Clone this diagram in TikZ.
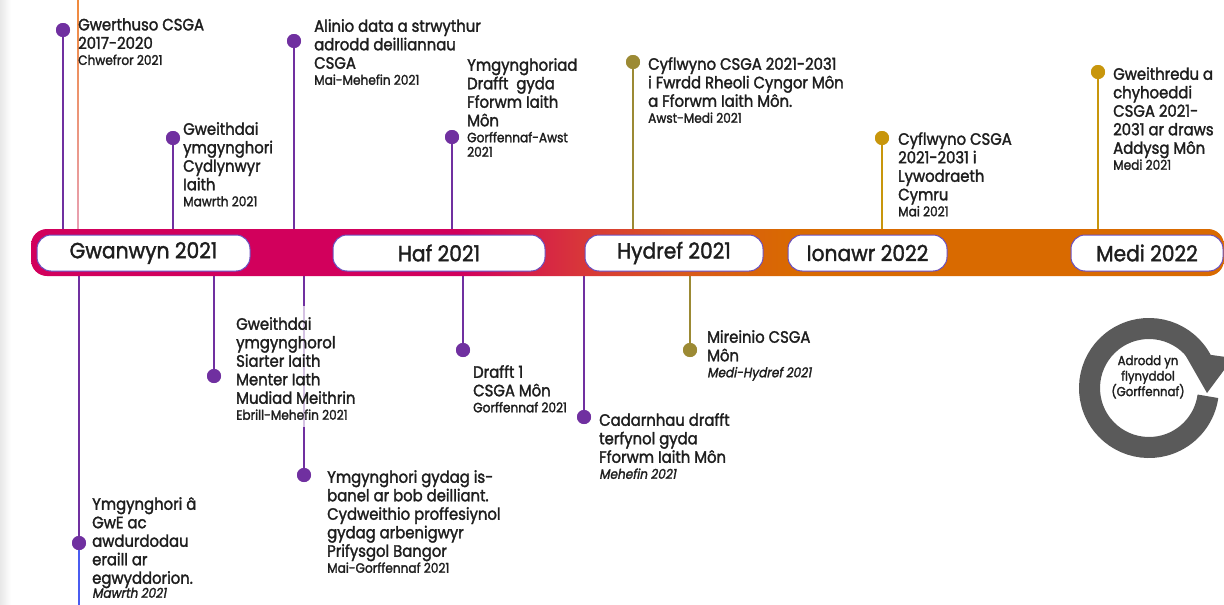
\documentclass[tikz,border=0pt]{standalone}
\usepackage{fontspec}
\setmainfont{Poppins}[FakeStretch=0.9,FakeBold=1.8]
\newfontfamily\itfont{Poppins}[FakeStretch=0.9,FakeSlant=0.18,FakeBold=1.8]
\newfontfamily\pillfont{Poppins}[FakeStretch=0.92,FakeBold=1.6]
\definecolor{evpurple}{HTML}{7030A0}
\definecolor{evolive}{HTML}{9C8A34}
\definecolor{evgold}{HTML}{C8960C}
\definecolor{txt}{HTML}{1E1E1E}
\definecolor{barMag}{HTML}{D2005C}
\definecolor{barRed}{HTML}{D8363A}
\definecolor{barOR}{HTML}{DA5A1A}
\definecolor{barOr}{HTML}{D96A00}
\definecolor{pillline}{HTML}{6A4FBF}
\definecolor{ringgray}{HTML}{5A5A5A}
\definecolor{lineOr}{HTML}{F08A3C}
\definecolor{linePk}{HTML}{E8A0B4}
\definecolor{lineBl}{HTML}{4A5CF0}
\pgfdeclarehorizontalshading{barshade}{100bp}{color(0bp)=(barMag); color(43bp)=(barMag); color(48bp)=(barRed); color(52.5bp)=(barOR); color(57bp)=(barOr); color(100bp)=(barOr)}
\newcommand\dfont{\fontsize{13.5}{15}\selectfont}
\newcommand\dtext[1]{{\dfont #1}}
\newcommand\ditext[1]{{\itfont\dfont #1}}
\tikzset{
  ev/.style={anchor=north west, align=left, inner sep=0pt, text=txt, font=\fontsize{16.5}{18.5}\selectfont},
  dotP/.style={circle, fill=evpurple, inner sep=0pt, minimum size=14},
  dotO/.style={circle, fill=evolive, inner sep=0pt, minimum size=14},
  dotG/.style={circle, fill=evgold, inner sep=0pt, minimum size=14},
  stemP/.style={draw=evpurple, line width=2.6},
  stemO/.style={draw=evolive, line width=2.6},
  stemG/.style={draw=evgold, line width=2.6},
  stemF/.style={draw=evpurple!30, line width=2.6},
  stemB/.style={draw=lineBl, line width=2.6},
  pill/.style={draw=pillline, line width=1, fill=white, rounded corners=14, minimum height=36, inner sep=0pt, text=txt, font=\pillfont\fontsize{22}{26}\selectfont},
}
\begin{document}
\begin{tikzpicture}[x=1pt,y=-1pt]
\useasboundingbox (0,0) rectangle (1224,605);
\fill[white] (0,0) rectangle (1224,605);
\shade[left color=black!9, right color=white] (0,0) rectangle (11,605);
\shade[top color=lineOr, bottom color=linePk] (77.2,0) rectangle (78.8,230);

% bar-side coordinates
\coordinate (b1) at (63,240);
\coordinate (b2) at (173,240);
\coordinate (b3) at (294,240);
\coordinate (b4) at (452,240);
\coordinate (b5) at (633,240);
\coordinate (b6) at (882,240);
\coordinate (b7) at (1098,240);
\coordinate (b8) at (79,265);
\coordinate (b9) at (214,265);
\coordinate (b10) at (304,265);
\coordinate (b11) at (463,265);
\coordinate (b12) at (584,265);
\coordinate (b13) at (690,265);
\coordinate (c10a) at (304,306);
\coordinate (c10b) at (304,427);
\coordinate (e8) at (79,605);

% dots
\node[dotP] (d1) at (63,30) {};
\node[dotP] (d2) at (173,138) {};
\node[dotP] (d3) at (294,41) {};
\node[dotP] (d4) at (452,137) {};
\node[dotO] (d5) at (633,62) {};
\node[dotG] (d6) at (882,138) {};
\node[dotG] (d7) at (1098,72) {};
\node[dotP] (d8) at (79,543) {};
\node[dotP] (d9) at (214,376) {};
\node[dotP] (d10) at (304,475) {};
\node[dotP] (d11) at (463,350) {};
\node[dotP] (d12) at (584,417) {};
\node[dotO] (d13) at (690,350) {};

% stems
\draw[stemP] (b1) -- (d1.center);
\draw[stemP] (b2) -- (d2.center);
\draw[stemP] (b3) -- (d3.center);
\draw[stemP] (b4) -- (d4.center);
\draw[stemO] (b5) -- (d5.center);
\draw[stemG] (b6) -- (d6.center);
\draw[stemG] (b7) -- (d7.center);
\draw[stemP] (b8) -- (d8.center);
\draw[stemB] (d8.center) -- (e8);
\draw[stemP] (b9) -- (d9.center);
\draw[stemP] (b10) -- (c10a);
\draw[stemF] (c10a) -- (c10b);
\draw[stemP] (c10b) -- (d10.center);
\draw[stemP] (b11) -- (d11.center);
\draw[stemP] (b12) -- (d12.center);
\draw[stemO] (b13) -- (d13.center);

% redraw dots on top
\foreach \d/\s in {d1/dotP,d2/dotP,d3/dotP,d4/dotP,d5/dotO,d6/dotG,d7/dotG,d8/dotP,d9/dotP,d10/dotP,d11/dotP,d12/dotP,d13/dotO}{
  \node[\s] at (\d.center) {};
}

% bar
\shade[shading=barshade, rounded corners=16] (31,229) rectangle (1224,276);

% pills
\node[pill, minimum width=213] (p1) at (143.5,253) {Gwanwyn 2021};
\node[pill, minimum width=212] (p2) at (439,253) {Haf 2021};
\node[pill, minimum width=178] (p3) at (674,253) {Hydref 2021};
\node[pill, minimum width=159] (p4) at (867.5,253) {Ionawr 2022};
\node[pill, minimum width=152] (p5) at (1147,253) {Medi 2022};

% top texts
\node[ev] (t1) at (78,18) {Gwerthuso CSGA\\2017-2020\\[-2.5pt]\dtext{Chwefror 2021}};
\node[ev] (t2) at (183,122) {Gweithdai\\ymgynghori\\Cydlynwyr\\Iaith\\[-2.5pt]\dtext{Mawrth 2021}};
\node[ev] (t3) at (314,19) {Alinio data a strwythur\\adrodd deilliannau\\CSGA\\[-2.5pt]\dtext{Mai-Mehefin 2021}};
\node[ev] (t4) at (467,58) {Ymgynghoriad\\Drafft\ \ gyda\\Fforwm Iaith\\Môn\\[-2.5pt]\dtext{Gorffennaf-Awst}\\[-4pt]\dtext{2021}};
\node[ev] (t5) at (648,57) {Cyflwyno CSGA 2021-2031\\i Fwrdd Rheoli Cyngor Môn\\a Fforwm Iaith Môn.\\[-2.5pt]\dtext{Awst-Medi 2021}};
\node[ev] (t6) at (898,132) {Cyflwyno CSGA\\2021-2031 i\\Lywodraeth\\Cymru\\[-2.5pt]\dtext{Mai 2021}};
\node[ev] (t7) at (1113,67) {Gweithredu a\\chyhoeddi\\CSGA 2021-\\2031 ar draws\\Addysg Môn\\[-2.5pt]\dtext{Medi 2021}};

% bottom texts
\node[ev] (t8) at (92,497) {Ymgynghori â\\GwE ac\\awdurdodau\\eraill ar\\egwyddorion.\\[-4.5pt]\ditext{Mawrth 2021}};
\node[ev] (t9) at (236,317) {Gweithdai\\ymgynghorol\\Siarter Iaith\\Menter Iath\\Mudiad Meithrin\\[-2.5pt]\dtext{Ebrill-Mehefin 2021}};
\node[ev] (t10) at (327,470) {Ymgynghori gydag is-\\banel ar bob deilliant.\\Cydweithio proffesiynol\\gydag arbenigwyr\\Prifysgol Bangor\\[-2.5pt]\dtext{Mai-Gorffennaf 2021}};
\node[ev] (t11) at (473,365) {Drafft 1\\CSGA Môn\\[-2.5pt]\dtext{Gorffennaf 2021}};
\node[ev] (t12) at (599,413) {Cadarnhau drafft\\terfynol gyda\\Fforwm Iaith Môn\\[-2.5pt]\ditext{Mehefin 2021}};
\node[ev] (t13) at (707,330) {Mireinio CSGA\\Môn\\[-2.5pt]\ditext{Medi-Hydref 2021}};

% cycle arrow
\coordinate (rc) at (1149,388);
\draw[ringgray, line width=21] (rc) ++(-27:59.5) arc[start angle=-27, end angle=-352, radius=59.5];
\fill[ringgray] (1183,351) -- (1233,358) -- (1207,393) -- cycle;
\node[align=center, inner sep=0pt, text=txt, font=\fontsize{13}{15.5}\selectfont] (cyc) at (1148,377) {Adrodd yn\\flynyddol\\(Gorffennaf)};
\end{tikzpicture}
\end{document}
